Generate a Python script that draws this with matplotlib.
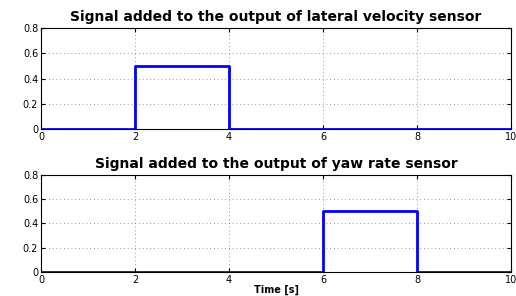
import matplotlib
matplotlib.use("Agg")
import matplotlib.pyplot as plt

# step signals (time in s, value)
t_lat = [0, 2, 2, 4, 4, 10]
v_lat = [0, 0, 0.5, 0.5, 0, 0]
t_yaw = [0, 6, 6, 8, 8, 10]
v_yaw = [0, 0, 0.5, 0.5, 0, 0]

titles = ["Signal added to the output of lateral velocity sensor",
          "Signal added to the output of yaw rate sensor"]
xticks = [0, 2, 4, 6, 8, 10]
yticks = [0, 0.2, 0.4, 0.6, 0.8]
yticklabels = ["0", "0.2", "0.4", "0.6", "0.8"]

plt.rcParams['font.family'] = ['DejaVu Sans']

fig = plt.figure(figsize=(5.16, 2.96), dpi=100)
ax1 = fig.add_axes([0.0795, 0.564, 0.911, 0.341])
ax2 = fig.add_axes([0.0795, 0.081, 0.911, 0.328])

for ax, t, v, title in [(ax1, t_lat, v_lat, titles[0]), (ax2, t_yaw, v_yaw, titles[1])]:
    ax.plot(t, v, color='blue', lw=2)
    ax.set_xlim(0, 10)
    ax.set_ylim(0, 0.8)
    ax.set_xticks(xticks)
    ax.set_yticks(yticks)
    ax.set_yticklabels(yticklabels)
    ax.tick_params(direction='in', labelsize=7, length=3, top=True, right=True, pad=2)
    ax.grid(True, linestyle=(0, (1, 3.5)), color='0.45', lw=0.6)
    ax.set_title(title, fontsize=10, fontweight='bold', pad=5)

ax2.set_xlabel("Time [s]", fontsize=7, fontweight='bold', labelpad=0)

fig.savefig("out.png", dpi=100)
